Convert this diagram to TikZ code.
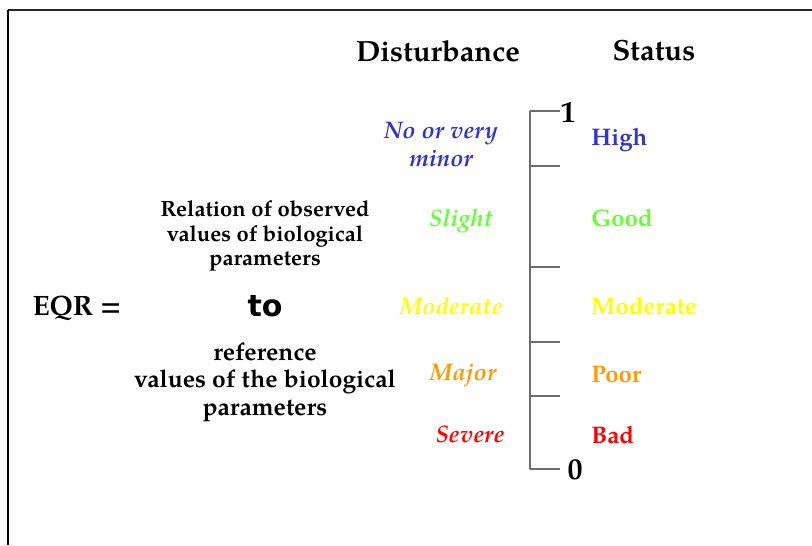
\documentclass[tikz,border=0pt]{standalone}
\usepackage{fontspec}
\setmainfont{TeX Gyre Pagella}
\newfontfamily\tofont{DejaVu Sans}
\usetikzlibrary{positioning}
\definecolor{highblue}{RGB}{51,51,204}
\definecolor{goodgreen}{RGB}{102,255,51}
\definecolor{modyellow}{RGB}{255,255,0}
\definecolor{poororange}{RGB}{255,153,0}
\definecolor{badred}{RGB}{255,0,0}
\definecolor{scalegray}{RGB}{110,110,110}
\tikzset{
  heading/.style={font=\fontsize{14.6}{16}\selectfont\bfseries, inner sep=0pt},
  disturb/.style={font=\fontsize{12}{14}\selectfont\bfseries\itshape, inner sep=0pt, align=center},
  status/.style={font=\fontsize{12}{14}\selectfont\bfseries, anchor=base west, inner sep=0pt},
  relation/.style={font=\fontsize{11}{12.25}\selectfont\bfseries, align=center, inner sep=0pt},
  endmark/.style={font=\fontsize{15}{17}\selectfont\bfseries, inner sep=0pt},
  scaleline/.style={draw=scalegray, line width=0.7pt},
}
\begin{document}
\begin{tikzpicture}[x=0.5pt, y=-0.5pt]
\useasboundingbox (0,0) rectangle (812,545);
% frame
\draw[line width=0.7pt, black!85] (8,10) -- (812,10);
\draw[line width=1.1pt] (8,10) -- (8,545);

\node[heading] (dist) at (438,51) {Disturbance};
\node[heading] (stat) at (654,51) {Status};

\node[font=\fontsize{14}{16}\selectfont\bfseries, inner sep=0pt] (eqr) at (77,308) {EQR =};
\node[relation] (obs) at (265,236) {Relation of observed\\ values of biological\\ parameters};
\node[font=\tofont\fontsize{15}{17}\selectfont\bfseries, inner sep=0pt] (to) at (265,306) {to};
\node[relation, font=\fontsize{12.3}{13.7}\selectfont\bfseries] (ref) at (265,382) {reference\\ values of the biological\\ parameters};

\node[disturb, text=highblue] (none) at (441,145) {No or very\\ minor};
\node[disturb, anchor=base, text=goodgreen] (slight) at (461,226) {Slight};
\node[disturb, anchor=base, text=modyellow] (dmod) at (451,314) {Moderate};
\node[disturb, anchor=base, text=poororange] (major) at (463,380) {Major};
\node[disturb, anchor=base, text=badred] (severe) at (470,442) {Severe};

\node[status, text=highblue] (high) at (591,146) {High};
\node[status, text=goodgreen] (good) at (591,226) {Good};
\node[status, text=modyellow] (smod) at (591,314) {Moderate};
\node[status, text=poororange] (poor) at (591,382) {Poor};
\node[status, text=badred] (bad) at (591,443) {Bad};

% scale
\coordinate (s1) at (530,111);
\coordinate (s0) at (530,469);
\draw[scaleline] (s1) -- (s0);
\foreach \ty in {111,166,267,342,396,469}
  \draw[scaleline] (530,\ty) -- (560,\ty);
\node[endmark] (one) at (568,112) {1};
\node[endmark] (zero) at (575,470) {0};
\end{tikzpicture}
\end{document}
